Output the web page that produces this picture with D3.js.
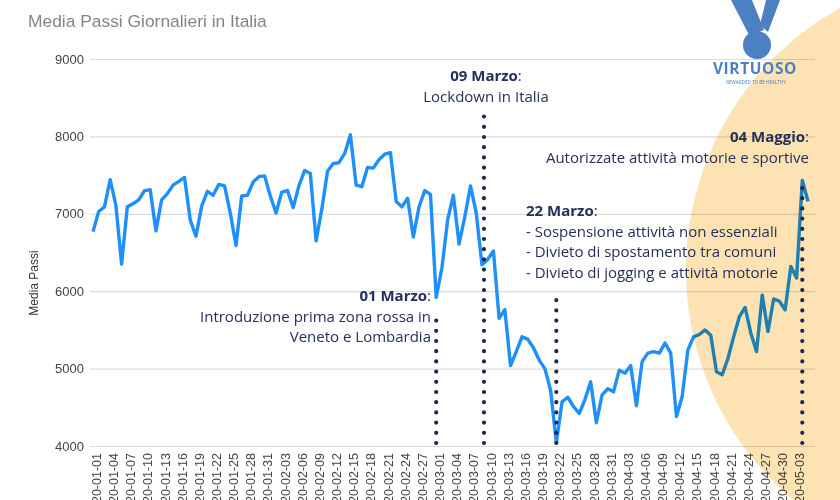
<!DOCTYPE html>
<html><head><meta charset="utf-8">
<script src="https://cdn.jsdelivr.net/npm/d3@7"></script>
<style>body{margin:0;background:#fff}svg{display:block}</style>
</head><body>
<svg id="chart" width="840" height="500"></svg>
<script>
// ---------- DATA ----------
const startDate = "2020-01-01";
const endDate = "2020-05-05";
const values = [
 6770,7030,7090,7440,7110,6350,7090,7130,7180,7300,
 7310,6780,7180,7260,7370,7420,7470,6920,6710,7100,
 7290,7240,7380,7360,7010,6590,7230,7240,7410,7480,
 7490,7230,7010,7280,7300,7080,7360,7560,7520,6650,
 7060,7550,7650,7660,7780,8020,7370,7350,7600,7590,
 7700,7770,7790,7160,7090,7200,6700,7090,7300,7250,
 5920,6300,6920,7240,6610,6960,7360,7010,6340,6410,
 6520,5650,5760,5040,5220,5410,5380,5270,5110,5000,
 4720,4040,4570,4630,4510,4420,4600,4830,4300,4660,
 4740,4700,4980,4940,5040,4520,5090,5200,5220,5200,
 5330,5200,4380,4640,5240,5410,5440,5500,5430,4960,
 4920,5130,5410,5670,5790,5460,5220,5950,5480,5900,
 5870,5760,6320,6170,7430,7160
];
const yTicks = [4000,5000,6000,7000,8000,9000];
const eventDates  = ["2020-03-01","2020-03-09","2020-03-22","2020-05-04"];
const eventTitles = ["01 Marzo","09 Marzo","22 Marzo","04 Maggio"];
const eventLines  = [
  ["Introduzione prima zona rossa in","Veneto e Lombardia"],
  ["Lockdown in Italia"],
  ["- Sospensione attività non essenziali","- Divieto di spostamento tra comuni","- Divieto di jogging e attività motorie"],
  ["Autorizzate attività motorie e sportive"]
];
const titleText = "Media Passi Giornalieri in Italia";
const yLabel = "Media Passi";

// ---------- LAYOUT ----------
const parse = d3.timeParse("%Y-%m-%d");
const fmt = d3.timeFormat("%Y-%m-%d");
const dates = d3.timeDay.range(parse(startDate), d3.timeDay.offset(parse(endDate),1));
const data = dates.map((d,i)=>({date:d, value:values[i]}));
const tickDates = dates.filter((d,i)=>i%3===0);

const svg = d3.select("#chart");
const x = d3.scaleTime().domain([parse(startDate), parse(endDate)]).range([93, 808]);
const y = d3.scaleLinear().domain([4000, 9000]).range([446, 59]);

// title
svg.append("text").attr("x",28).attr("y",27)
  .attr("font-family","'Liberation Sans', Arial, sans-serif").attr("font-size",17.4)
  .attr("fill","#858585").text(titleText);

// y axis + grid
const gy = svg.append("g").attr("transform","translate(90,0)")
  .call(d3.axisLeft(y).tickValues(yTicks).tickSize(-725).tickPadding(6).tickFormat(d3.format("d")));
gy.select(".domain").remove();
gy.selectAll(".tick line").attr("stroke","#dcdcdc").attr("stroke-width",1.2);
gy.selectAll(".tick text").attr("font-family","'Liberation Sans', Arial, sans-serif")
  .attr("font-size",13).attr("fill","#444");

svg.append("text").attr("transform","translate(38,283) rotate(-90)")
  .attr("text-anchor","middle").attr("font-family","'Liberation Sans', Arial, sans-serif")
  .attr("font-size",12).attr("fill","#333").text(yLabel);

// x axis
const gx = svg.append("g").attr("transform","translate(0,446)")
  .call(d3.axisBottom(x).tickValues(tickDates).tickSize(0).tickFormat(fmt));
gx.select(".domain").remove();
gx.selectAll(".tick text")
  .attr("transform","rotate(-90)").attr("text-anchor","end")
  .attr("x",-7).attr("y",3).attr("dy","0.35em")
  .attr("font-family","'Liberation Sans', Arial, sans-serif").attr("font-size",12.5).attr("fill","#444");

// line
svg.append("path").datum(data)
  .attr("fill","none").attr("stroke","#1f8ffb").attr("stroke-width",3.4)
  .attr("stroke-linejoin","round")
  .attr("d", d3.line().x(d=>x(d.date)).y(d=>y(d.value)));

// orange circle (multiply)
svg.append("circle").attr("cx",986).attr("cy",270).attr("r",300)
  .attr("fill","#fde3b3").style("mix-blend-mode","multiply");

// event dotted lines and annotations
const navy = "#24305a";
const tops = [318, 112, 294, 180];
tops.forEach((t,i)=>{
  const xx = x(parse(eventDates[i])) + (i===1 ? 2 : 0);
  svg.append("line").attr("x1",xx).attr("x2",xx).attr("y1",443).attr("y2",t)
    .attr("stroke","#1d2750").attr("stroke-width",4.2)
    .attr("stroke-linecap","round").attr("stroke-dasharray","0,10.2");
});
const annFont = "'Open Sans', sans-serif";
const annFS = 15;
const ann = [
  {anchor:"end", x:431, y:301},
  {anchor:"middle", x:486, y:81},
  {anchor:"start", x:526, y:216},
  {anchor:"end", x:809, y:142}
];
ann.forEach((a,i)=>{
  const t = svg.append("text").attr("x",a.x).attr("y",a.y).attr("text-anchor",a.anchor)
    .attr("font-family",annFont).attr("font-size",annFS).attr("fill",navy);
  t.append("tspan").attr("font-weight",700).text(eventTitles[i]);
  t.append("tspan").text(":");
  eventLines[i].forEach((l,j)=>{
    svg.append("text").attr("x",a.x).attr("y",a.y+20.7*(j+1)).attr("text-anchor",a.anchor)
      .attr("font-family",annFont).attr("font-size",annFS).attr("fill",navy).text(l);
  });
});

// logo
const blue = "#4c80c3";
const logo = svg.append("g");
logo.append("path").attr("d","M731,0 L752,0 L764,30 L749,35 Z").attr("fill",blue);
logo.append("path").attr("d","M766,0 L780,0 L768,32 L760,25 Z").attr("fill",blue);
logo.append("circle").attr("cx",757).attr("cy",45).attr("r",14).attr("fill",blue);
logo.append("text").attr("x",755).attr("y",74).attr("text-anchor","middle")
  .attr("font-family","'Open Sans', sans-serif").attr("font-weight",700)
  .attr("font-size",15.5).attr("letter-spacing",0.6).attr("fill",blue).text("VIRTUOSO");
logo.append("text").attr("x",756).attr("y",84).attr("text-anchor","middle")
  .attr("font-family","'Open Sans', sans-serif").attr("font-size",4.6)
  .attr("fill",blue).text("REWARDED TO BE HEALTHY");
</script>
</body></html>
